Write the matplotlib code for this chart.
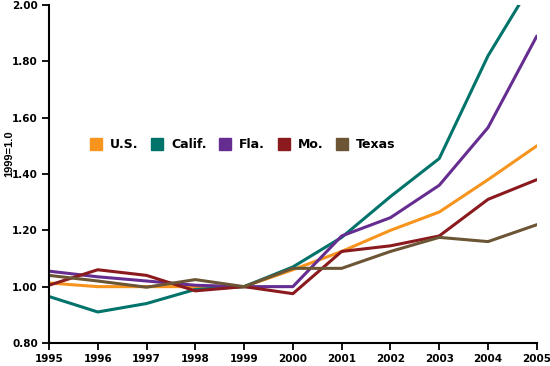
import matplotlib.pyplot as plt
from matplotlib.lines import Line2D

plt.rcParams['font.family'] = ['DejaVu Sans']

# Index values, 1999 = 1.0
years = [1995, 1996, 1997, 1998, 1999, 2000, 2001, 2002, 2003, 2004, 2005]
us = [1.013, 1.0, 1.0, 1.0, 1.0, 1.06, 1.125, 1.2, 1.265, 1.38, 1.5]
calif = [0.965, 0.91, 0.94, 0.99, 1.0, 1.07, 1.175, 1.32, 1.455, 1.82, 2.105]
fla = [1.055, 1.035, 1.02, 1.005, 1.0, 1.0, 1.18, 1.245, 1.36, 1.565, 1.89]
mo = [1.005, 1.06, 1.04, 0.985, 1.0, 0.975, 1.125, 1.145, 1.18, 1.31, 1.38]
texas = [1.04, 1.02, 0.998, 1.025, 1.0, 1.065, 1.065, 1.125, 1.175, 1.16, 1.22]

names = ['U.S.', 'Calif.', 'Fla.', 'Mo.', 'Texas']
colors = ['#F7941D', '#00736B', '#662D91', '#8B1A1E', '#6B5535']
series = [us, calif, fla, mo, texas]

fig = plt.figure(figsize=(5.5, 3.66), dpi=100)
ax = fig.add_axes([0.089, 0.063, 0.887, 0.923])

for vals, c in zip(series, colors):
    ax.plot(years, vals, color=c, linewidth=2.2, solid_capstyle='round')

ax.set_xlim(1995, 2005)
ax.set_ylim(0.80, 2.00)
ax.set_xticks(years)
ax.set_yticks([0.8, 1.0, 1.2, 1.4, 1.6, 1.8, 2.0])
ax.set_yticklabels([f"{v:.2f}" for v in ax.get_yticks()])

for s in ['top', 'right']:
    ax.spines[s].set_visible(False)
for s in ['left', 'bottom']:
    ax.spines[s].set_linewidth(1.5)
ax.tick_params(direction='out', length=5, width=1.3, labelsize=7.5, pad=3)
for lab in ax.get_xticklabels() + ax.get_yticklabels():
    lab.set_fontweight('bold')

# narrow face for the small rotated label, as in the original
ax.set_ylabel('1999=1.0', fontsize=8, fontweight='bold',
              family=['Liberation Sans Narrow', 'Liberation Sans', 'DejaVu Sans'])
ax.yaxis.set_label_coords(-0.071, 0.56)

handles = [Line2D([], [], marker='s', linestyle='none', markersize=8.6,
                  markerfacecolor=c, markeredgecolor=c) for c in colors]
ax.legend(handles, names, ncol=5, frameon=False, loc='center',
          bbox_to_anchor=(0.397, 0.586), prop={'weight': 'bold', 'size': 9},
          handletextpad=0.6, columnspacing=1.0, handlelength=1.0)

fig.savefig('out.png', dpi=100)
